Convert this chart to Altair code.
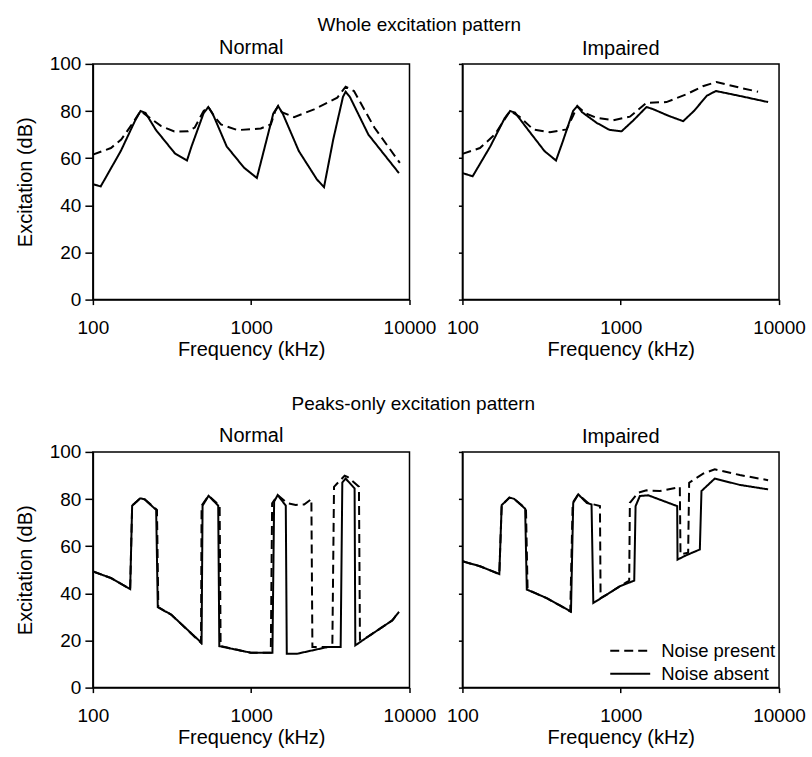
import altair as alt
import pandas as pd

FONT = "Liberation Sans"

# ---------------- data (frequency, excitation dB) ----------------
# Whole excitation pattern - Normal
wn_abs_f = [100, 112, 150, 185, 200, 215, 250, 330, 393, 420, 500, 536, 570, 700, 900, 1086, 1200, 1380, 1480, 1580, 2000, 2600, 2884, 3300, 3800, 3950, 4200, 5500, 8570]
wn_abs_v = [49.0, 48.0, 63, 76, 80, 79.2, 72, 62, 59, 65, 79, 81.7, 79, 65, 56, 51.6, 63, 79, 82.1, 79, 63, 51, 47.7, 68, 86, 88.2, 86, 70, 53.7]
wn_pre_f = [100, 130, 151, 175, 200, 230, 270, 327, 400, 440, 500, 536, 580, 644, 820, 1150, 1330, 1420, 1480, 1560, 1866, 2495, 3500, 3950, 4460, 6000, 8690]
wn_pre_v = [61.5, 64.3, 67.9, 74, 80, 77, 73.6, 71.3, 71.4, 73, 80, 81.7, 78, 74.3, 71.9, 72.6, 74.3, 80, 82.1, 79.5, 77.4, 80.7, 85.7, 90.3, 88.5, 73, 58]

# Whole excitation pattern - Impaired
wi_abs_f = [100, 116, 150, 185, 200, 215, 260, 330, 390, 430, 500, 532, 570, 704, 850, 1012, 1200, 1455, 1600, 2000, 2480, 2900, 3500, 3990, 5650, 8530]
wi_abs_v = [53.7, 52.3, 65, 77, 80, 79.3, 72, 63, 59, 67, 80, 82.1, 79.5, 75, 72, 71.4, 76, 81.7, 80.8, 78, 75.7, 80, 86.5, 88.5, 86.4, 83.8]
wi_pre_f = [100, 129, 160, 200, 230, 280, 357, 455, 500, 532, 600, 704, 897, 1143, 1455, 1945, 2600, 3300, 4020, 5650, 7370]
wi_pre_v = [61.8, 64.3, 70, 80, 77.5, 72.2, 71, 72.2, 78, 82.1, 79, 77.1, 76.1, 77.6, 83.5, 83.8, 87.1, 90.5, 92.3, 89.9, 88.2]

# Peaks-only excitation pattern - Normal
pn_abs_f = [100, 130, 172, 177, 199, 212, 251, 257, 312, 486, 493, 538, 619, 629, 995, 1362, 1396, 1470, 1654, 1678, 1960, 3030, 3674, 3764, 3950, 4500, 4547, 5410, 7780, 8570]
pn_abs_v = [49.3, 46.5, 41.8, 77.2, 80.3, 79.9, 75.4, 34.1, 31, 19, 77.2, 81.4, 77.2, 17.6, 14.8, 14.8, 78.9, 81.7, 77.2, 14.4, 14.4, 17.2, 17.2, 87, 88.7, 84.5, 17.9, 21.4, 28.5, 32.1]
pn_pre_f = [100, 130, 172, 177, 199, 212, 254, 259, 312, 482, 486, 538, 632, 641, 995, 1330, 1356, 1470, 1694, 1912, 2159, 2400, 2436, 3255, 3336, 3893, 4084, 4794, 4864, 5410, 7780, 8570]
pn_pre_v = [49.3, 46.5, 41.8, 77.2, 80.3, 79.9, 75.4, 34.1, 31, 19, 77.2, 81.4, 77.2, 17.6, 14.8, 14.8, 78.2, 81.7, 78.2, 77.5, 77.7, 80, 17.2, 17.2, 85.2, 89.9, 89.3, 85.2, 20.4, 21.4, 28.5, 32.1]

# Peaks-only excitation pattern - Impaired
pi_abs_f = [100, 129, 171, 177, 198, 212, 249, 255, 340, 485, 501, 539, 609, 654, 671, 814, 988, 1217, 1241, 1321, 1491, 2273, 2284, 2602, 3160, 3236, 3927, 5650, 8530]
pi_abs_v = [53.6, 51.5, 48.2, 77.4, 80.6, 80.1, 75.9, 41.6, 38, 32.3, 78.4, 82, 78.4, 77.7, 35.9, 39.4, 43, 45.4, 77, 81.3, 81.6, 77, 54.3, 56.2, 58.6, 83.4, 88.7, 86, 84.1]
pi_pre_f = [100, 129, 171, 177, 198, 212, 252, 258, 340, 480, 497, 539, 620, 739, 746, 814, 988, 1131, 1142, 1290, 1455, 1766, 2362, 2385, 2666, 2705, 3315, 3927, 5650, 8530]
pi_pre_v = [53.6, 51.5, 48.2, 77.4, 80.6, 80.1, 75.9, 41.6, 38, 32.3, 78.4, 82, 78.4, 77, 38, 39.4, 43, 45.4, 78.4, 82.7, 83.7, 83.4, 85.1, 56.5, 57.2, 86.9, 90.8, 92.6, 90.2, 88]

SERIES = ["Noise present", "Noise absent"]
X_TICKS = [100, 1000, 10000]
Y_TICKS = [0, 20, 40, 60, 80, 100]

W, H = 317, 236


def panel(pre_f, pre_v, abs_f, abs_v, title, first_col, legend):
    rows = []
    for i, (f, v) in enumerate(zip(pre_f, pre_v)):
        rows.append({"freq": f, "val": v, "series": SERIES[0], "i": i})
    for i, (f, v) in enumerate(zip(abs_f, abs_v)):
        rows.append({"freq": f, "val": v, "series": SERIES[1], "i": i})
    df = pd.DataFrame(rows)

    x = alt.X("freq:Q",
              scale=alt.Scale(type="log", domain=[100, 10000], nice=False),
              axis=alt.Axis(values=X_TICKS, format="d", title="Frequency (kHz)",
                            labelFlush=False, tickSize=5, labelPadding=14,
                            titlePadding=2))
    if first_col:
        yaxis = alt.Axis(values=Y_TICKS, title="Excitation (dB)", tickSize=8,
                         labelPadding=4, titlePadding=14)
        toff = -3
    else:
        yaxis = alt.Axis(values=Y_TICKS, title=None, labels=False, tickSize=4)
        toff = 4
    y = alt.Y("val:Q", scale=alt.Scale(domain=[0, 100], nice=False), axis=yaxis)

    scale = alt.Scale(domain=SERIES, range=[[9, 5], [1, 0]])
    if legend:
        leg = alt.Legend(title=None, orient="none", legendX=157, legendY=188,
                         symbolType="M-2,0H2", symbolSize=400,
                         symbolStrokeWidth=2, symbolStrokeColor="black",
                         symbolFillColor="transparent",
                         labelFontSize=18.5, labelFont=FONT, labelColor="black",
                         rowPadding=2, padding=0, labelOffset=20)
        sd = alt.StrokeDash("series:N", scale=scale, legend=leg)
    else:
        sd = alt.StrokeDash("series:N", scale=scale, legend=None)

    return alt.Chart(df).mark_line(color="black", strokeWidth=2, clip=True).encode(
        x=x, y=y, strokeDash=sd, order=alt.Order("i:Q")
    ).properties(
        width=W, height=H,
        title=alt.TitleParams(title, fontSize=20, font=FONT, fontWeight="normal",
                              color="black", offset=toff)
    )


top = alt.hconcat(
    panel(wn_pre_f, wn_pre_v, wn_abs_f, wn_abs_v, "Normal", True, False),
    panel(wi_pre_f, wi_pre_v, wi_abs_f, wi_abs_v, "Impaired", False, False),
    spacing=53, bounds="flush",
    title=alt.TitleParams("Whole excitation pattern", fontSize=19, font=FONT,
                          fontWeight="normal", color="black", anchor="middle",
                          offset=2.5, dx=9),
).resolve_scale(strokeDash="independent")

bottom = alt.hconcat(
    panel(pn_pre_f, pn_pre_v, pn_abs_f, pn_abs_v, "Normal", True, False),
    panel(pi_pre_f, pi_pre_v, pi_abs_f, pi_abs_v, "Impaired", False, True),
    spacing=53, bounds="flush",
    title=alt.TitleParams("Peaks-only excitation pattern", fontSize=19, font=FONT,
                          fontWeight="normal", color="black", anchor="middle",
                          offset=11.5, dx=3),
).resolve_scale(strokeDash="independent")

chart = alt.vconcat(top, bottom, spacing=33.5).resolve_scale(
    strokeDash="independent"
).properties(
    padding={"left": 14, "top": 14.5, "right": 5, "bottom": 5}
).configure_view(
    stroke="black", strokeWidth=1.5
).configure_axis(
    grid=False, domainColor="black", domainWidth=1.5, tickColor="black",
    tickWidth=1.5, labelColor="black", titleColor="black",
    labelFont=FONT, titleFont=FONT, labelFontSize=19, titleFontSize=20,
    titleFontWeight="normal"
).configure_title(
    font=FONT, color="black", fontWeight="normal"
)

chart.save("out.html", embed_options={"renderer": "svg", "actions": False})
